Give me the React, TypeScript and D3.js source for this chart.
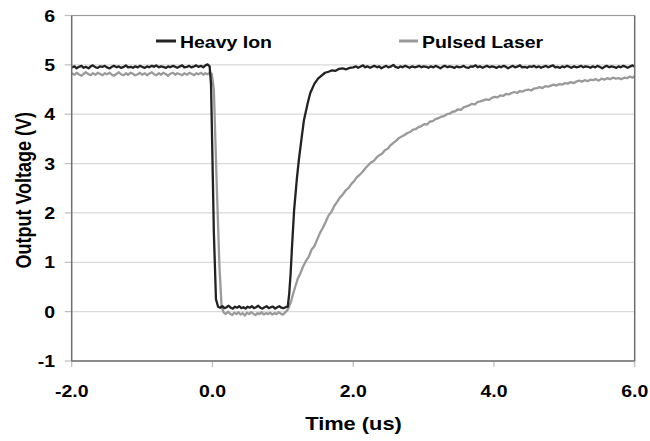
import React from "react";
import * as d3 from "d3";

const W = 650;
const H = 441;

const xTicks = [-2, 0, 2, 4, 6];
const yTicks = [-1, 0, 1, 2, 3, 4, 5, 6];
const seriesNames = ["Heavy Ion", "Pulsed Laser"];
const seriesColors = ["#222222", "#9a9a9a"];

// Heavy Ion trace: [time (us), voltage (V)]
const heavyIon: [number, number][] = [
  [-2.0, 4.95], [-1.96, 4.97], [-1.93, 4.93], [-1.9, 4.96], [-1.86, 4.98], [-1.83, 4.94], [-1.8, 4.96],
  [-1.76, 4.93], [-1.73, 4.97], [-1.7, 4.99], [-1.66, 4.95], [-1.63, 4.94], [-1.6, 4.97], [-1.56, 4.96],
  [-1.53, 4.98], [-1.5, 4.95], [-1.46, 4.93], [-1.43, 4.96], [-1.4, 4.98], [-1.36, 4.95], [-1.33, 4.97],
  [-1.3, 4.94], [-1.26, 4.96], [-1.23, 4.99], [-1.2, 4.95], [-1.16, 4.96], [-1.13, 4.94], [-1.1, 4.97],
  [-1.06, 4.95], [-1.03, 4.98], [-1.0, 4.96], [-0.96, 4.94], [-0.93, 4.97], [-0.9, 4.95], [-0.86, 4.98],
  [-0.83, 4.96], [-0.8, 4.99], [-0.76, 4.95], [-0.73, 4.97], [-0.7, 4.96], [-0.66, 4.94], [-0.63, 4.97],
  [-0.6, 4.95], [-0.56, 4.98], [-0.53, 4.96], [-0.5, 4.94], [-0.46, 4.97], [-0.43, 4.99], [-0.4, 4.95],
  [-0.36, 4.96], [-0.33, 4.98], [-0.3, 4.95], [-0.26, 4.97], [-0.23, 4.99], [-0.2, 4.96], [-0.16, 4.98],
  [-0.13, 4.95], [-0.1, 4.99], [-0.07, 5.01], [-0.04, 4.97], [-0.02, 4.6], [0.02, 1.6], [0.05, 0.25],
  [0.08, 0.1], [0.11, 0.08], [0.14, 0.11], [0.17, 0.07], [0.2, 0.09], [0.23, 0.12], [0.26, 0.08],
  [0.29, 0.06], [0.32, 0.1], [0.35, 0.08], [0.38, 0.11], [0.41, 0.07], [0.44, 0.09], [0.47, 0.06],
  [0.5, 0.1], [0.53, 0.08], [0.56, 0.11], [0.59, 0.07], [0.62, 0.09], [0.65, 0.12], [0.68, 0.08],
  [0.71, 0.06], [0.74, 0.09], [0.77, 0.11], [0.8, 0.07], [0.83, 0.09], [0.86, 0.1], [0.89, 0.06],
  [0.92, 0.09], [0.95, 0.11], [0.98, 0.08], [1.01, 0.07], [1.04, 0.09], [1.07, 0.1], [1.09, 0.35],
  [1.11, 0.75], [1.13, 1.3], [1.16, 2.05], [1.2, 2.7], [1.23, 3.1], [1.27, 3.55], [1.3, 3.88],
  [1.35, 4.2], [1.39, 4.43], [1.45, 4.62], [1.5, 4.72], [1.55, 4.78], [1.6, 4.84], [1.65, 4.86],
  [1.7, 4.89], [1.75, 4.88], [1.8, 4.92], [1.85, 4.93], [1.9, 4.91], [1.95, 4.94], [2.0, 4.95],
  [2.04, 4.97], [2.07, 4.94], [2.1, 4.96], [2.14, 4.99], [2.17, 4.95], [2.2, 4.97], [2.24, 4.94],
  [2.27, 4.96], [2.3, 4.98], [2.34, 4.95], [2.37, 4.97], [2.4, 4.93], [2.44, 4.96], [2.47, 4.98],
  [2.5, 4.95], [2.54, 4.97], [2.57, 5.0], [2.6, 4.96], [2.64, 4.94], [2.67, 4.97], [2.7, 4.95],
  [2.74, 4.98], [2.77, 4.96], [2.8, 4.94], [2.84, 4.97], [2.87, 4.95], [2.9, 4.96], [2.94, 4.98],
  [2.97, 4.95], [3.0, 4.97], [3.04, 4.96], [3.07, 4.94], [3.1, 4.97], [3.14, 4.95], [3.17, 4.98],
  [3.2, 4.96], [3.24, 4.93], [3.27, 4.96], [3.3, 4.98], [3.34, 4.95], [3.37, 4.97], [3.4, 4.96],
  [3.44, 4.94], [3.47, 4.97], [3.5, 4.95], [3.54, 4.96], [3.57, 4.98], [3.6, 4.95], [3.64, 4.94],
  [3.67, 4.97], [3.7, 4.96], [3.74, 4.99], [3.77, 4.95], [3.8, 4.97], [3.84, 4.94], [3.87, 4.96],
  [3.9, 4.98], [3.94, 4.95], [3.97, 4.97], [4.0, 4.96], [4.04, 4.94], [4.07, 4.97], [4.1, 4.95],
  [4.14, 4.98], [4.17, 4.96], [4.2, 4.93], [4.24, 4.96], [4.27, 4.98], [4.3, 4.95], [4.34, 4.97],
  [4.37, 4.99], [4.4, 4.95], [4.44, 4.96], [4.47, 4.94], [4.5, 4.97], [4.54, 4.96], [4.57, 4.98],
  [4.6, 4.95], [4.64, 4.97], [4.67, 4.94], [4.7, 4.96], [4.74, 4.98], [4.77, 4.95], [4.8, 4.97],
  [4.84, 4.99], [4.87, 4.95], [4.9, 4.96], [4.94, 4.94], [4.97, 4.97], [5.0, 4.95], [5.04, 4.98],
  [5.07, 4.96], [5.1, 4.94], [5.14, 4.97], [5.17, 4.95], [5.2, 4.96], [5.24, 4.98], [5.27, 4.95],
  [5.3, 4.97], [5.34, 4.96], [5.37, 4.94], [5.4, 4.97], [5.44, 4.95], [5.47, 4.98], [5.5, 4.96],
  [5.54, 4.93], [5.57, 4.96], [5.6, 4.98], [5.64, 4.95], [5.67, 4.97], [5.7, 4.96], [5.74, 4.94],
  [5.77, 4.97], [5.8, 4.95], [5.84, 4.98], [5.87, 4.96], [5.9, 4.94], [5.94, 4.97], [5.97, 4.99],
  [6.0, 4.96],
];

// Pulsed Laser trace: [time (us), voltage (V)]
const pulsedLaser: [number, number][] = [
  [-2.0, 4.83], [-1.96, 4.8], [-1.93, 4.84], [-1.9, 4.81], [-1.86, 4.78], [-1.83, 4.82], [-1.8, 4.85],
  [-1.76, 4.81], [-1.73, 4.79], [-1.7, 4.83], [-1.66, 4.8], [-1.63, 4.84], [-1.6, 4.82], [-1.56, 4.79],
  [-1.53, 4.83], [-1.5, 4.81], [-1.46, 4.84], [-1.43, 4.8], [-1.4, 4.78], [-1.36, 4.82], [-1.33, 4.85],
  [-1.3, 4.81], [-1.26, 4.79], [-1.23, 4.83], [-1.2, 4.8], [-1.16, 4.84], [-1.13, 4.82], [-1.1, 4.79],
  [-1.06, 4.81], [-1.03, 4.84], [-1.0, 4.8], [-0.96, 4.83], [-0.93, 4.79], [-0.9, 4.82], [-0.86, 4.85],
  [-0.83, 4.81], [-0.8, 4.79], [-0.76, 4.83], [-0.73, 4.8], [-0.7, 4.84], [-0.66, 4.81], [-0.63, 4.78],
  [-0.6, 4.82], [-0.56, 4.84], [-0.53, 4.8], [-0.5, 4.83], [-0.46, 4.81], [-0.43, 4.79], [-0.4, 4.83],
  [-0.36, 4.8], [-0.33, 4.84], [-0.3, 4.82], [-0.26, 4.79], [-0.23, 4.83], [-0.2, 4.81], [-0.16, 4.84],
  [-0.13, 4.8], [-0.1, 4.83], [-0.07, 4.81], [-0.04, 4.84], [-0.01, 4.82], [0.02, 4.5], [0.06, 2.6],
  [0.1, 0.9], [0.13, 0.1], [0.16, -0.02], [0.19, -0.05], [0.22, 0.0], [0.25, -0.04], [0.28, -0.07],
  [0.31, -0.02], [0.34, -0.05], [0.37, -0.01], [0.4, -0.06], [0.43, -0.03], [0.46, -0.08], [0.49, -0.02],
  [0.52, -0.05], [0.55, -0.01], [0.58, -0.04], [0.61, -0.07], [0.64, -0.03], [0.67, -0.05], [0.7, -0.01],
  [0.73, -0.06], [0.76, -0.03], [0.79, -0.05], [0.82, -0.02], [0.85, -0.06], [0.88, -0.03], [0.91, -0.05],
  [0.94, -0.01], [0.97, -0.04], [1.0, -0.06], [1.03, -0.02], [1.06, 0.02], [1.09, 0.1], [1.12, 0.22],
  [1.15, 0.38], [1.18, 0.52], [1.21, 0.66], [1.25, 0.78], [1.29, 0.92], [1.33, 1.03], [1.37, 1.12],
  [1.41, 1.26], [1.45, 1.33], [1.49, 1.47], [1.53, 1.6], [1.57, 1.7], [1.61, 1.82], [1.65, 1.95],
  [1.69, 2.02], [1.73, 2.14], [1.77, 2.22], [1.81, 2.31], [1.85, 2.37], [1.89, 2.45], [1.93, 2.5],
  [1.97, 2.58], [2.01, 2.64], [2.05, 2.72], [2.09, 2.77], [2.13, 2.83], [2.17, 2.9], [2.21, 2.96],
  [2.25, 3.02], [2.29, 3.05], [2.33, 3.12], [2.37, 3.17], [2.41, 3.2], [2.45, 3.27], [2.49, 3.3],
  [2.53, 3.37], [2.57, 3.42], [2.61, 3.46], [2.65, 3.52], [2.69, 3.55], [2.73, 3.58], [2.77, 3.62],
  [2.81, 3.64], [2.85, 3.69], [2.89, 3.7], [2.93, 3.74], [2.97, 3.76], [3.01, 3.8], [3.05, 3.79],
  [3.09, 3.85], [3.13, 3.86], [3.17, 3.9], [3.21, 3.92], [3.25, 3.95], [3.29, 3.96], [3.33, 4.0],
  [3.37, 4.01], [3.41, 4.05], [3.45, 4.06], [3.49, 4.1], [3.53, 4.09], [3.57, 4.14], [3.61, 4.16],
  [3.65, 4.18], [3.69, 4.21], [3.73, 4.2], [3.77, 4.25], [3.81, 4.26], [3.85, 4.28], [3.89, 4.3],
  [3.93, 4.29], [3.97, 4.33], [4.01, 4.35], [4.05, 4.34], [4.09, 4.38], [4.13, 4.37], [4.17, 4.41],
  [4.21, 4.4], [4.25, 4.43], [4.29, 4.45], [4.33, 4.43], [4.37, 4.47], [4.41, 4.46], [4.45, 4.49],
  [4.49, 4.5], [4.53, 4.48], [4.57, 4.52], [4.61, 4.53], [4.65, 4.55], [4.69, 4.53], [4.73, 4.57],
  [4.77, 4.56], [4.81, 4.58], [4.85, 4.6], [4.89, 4.58], [4.93, 4.61], [4.97, 4.6], [5.01, 4.63],
  [5.05, 4.62], [5.09, 4.65], [5.13, 4.63], [5.17, 4.66], [5.21, 4.68], [5.25, 4.66], [5.29, 4.69],
  [5.33, 4.67], [5.37, 4.7], [5.41, 4.69], [5.45, 4.71], [5.49, 4.68], [5.53, 4.72], [5.57, 4.7],
  [5.61, 4.73], [5.65, 4.71], [5.69, 4.74], [5.73, 4.72], [5.77, 4.73], [5.81, 4.71], [5.85, 4.74],
  [5.89, 4.73], [5.93, 4.76], [5.97, 4.74], [6.0, 4.77],
];

const seriesData = [heavyIon, pulsedLaser];

const FONT = "Arial, 'Liberation Sans', Helvetica, sans-serif";
const SX = 1.18; // horizontal stretch of the source image

const hyphen = (s: string) => s.replace("\u2212", "-");
const fmtY = (t: number) => hyphen(d3.format("d")(t));
const fmtX = (t: number) => hyphen(d3.format(".1f")(t));

function SText({ x, y, size, anchor = "start", rotate = 0, children }: any) {
  return (
    <text
      transform={`translate(${x},${y}) scale(${SX},1) rotate(${rotate})`}
      textAnchor={anchor}
      fontFamily={FONT}
      fontWeight="bold"
      fontSize={size}
      fill="#000"
    >
      {children}
    </text>
  );
}

export default function App() {
  const left = 71.7;
  const right = 634.7;
  const top = 15.5;
  const bottom = 361;

  const x = d3.scaleLinear().domain([-2, 6]).range([left, right]);
  const y = d3.scaleLinear().domain([-1, 6]).range([bottom, top]);

  const line = d3
    .line<[number, number]>()
    .x((d) => x(d[0]))
    .y((d) => y(d[1]))
    .curve(d3.curveLinear);

  return (
    <svg
      width={W}
      height={H}
      viewBox={`0 0 ${W} ${H}`}
      style={{ position: "absolute", left: 0, top: 0, background: "#fff" }}
    >
      <rect x={0} y={0} width={W} height={H} fill="#fff" />
      {/* gridlines */}
      {yTicks.map((t) => (
        <line key={"g" + t} x1={left} x2={right} y1={y(t)} y2={y(t)} stroke="#d9d9d9" strokeWidth={1.3} />
      ))}
      {/* y tick marks */}
      {yTicks.map((t) => (
        <line key={"yt" + t} x1={left - 7} x2={left} y1={y(t)} y2={y(t)} stroke="#bdbdbd" strokeWidth={1.2} />
      ))}
      {/* x tick marks */}
      {xTicks.map((t) => (
        <line key={"xt" + t} x1={x(t)} x2={x(t)} y1={bottom} y2={bottom + 6} stroke="#bdbdbd" strokeWidth={1.2} />
      ))}
      {/* series */}
      {seriesData
        .slice()
        .reverse()
        .map((d, i) => {
          const idx = seriesData.length - 1 - i;
          return (
            <path
              key={seriesNames[idx]}
              d={line(d) || ""}
              fill="none"
              stroke={seriesColors[idx]}
              strokeWidth={2.3}
              strokeLinejoin="round"
            />
          );
        })}
      {/* plot border */}
      <line x1={left} x2={right} y1={top} y2={top} stroke="#9a9a9a" strokeWidth={1.2} />
      <line x1={left} x2={left} y1={top} y2={bottom} stroke="#6f6f6f" strokeWidth={1.5} />
      <line x1={left} x2={right} y1={bottom} y2={bottom} stroke="#6f6f6f" strokeWidth={1.5} />
      <line x1={right} x2={right} y1={top} y2={bottom} stroke="#6f6f6f" strokeWidth={1.5} />

      {/* y tick labels */}
      {yTicks.map((t) => (
        <SText key={"yl" + t} x={55} y={y(t) + 6} size={16.5} anchor="end">
          {fmtY(t)}
        </SText>
      ))}
      {/* x tick labels */}
      {xTicks.map((t) => (
        <SText key={"xl" + t} x={x(t)} y={397} size={16.5} anchor="middle">
          {fmtX(t)}
        </SText>
      ))}

      {/* axis titles */}
      <SText x={353.5} y={430} size={18.5} anchor="middle">
        Time (us)
      </SText>
      <SText x={31} y={(top + bottom) / 2 + 2} size={18} anchor="middle" rotate={-90}>
        Output Voltage (V)
      </SText>

      {/* legend */}
      <line x1={156} x2={176} y1={41} y2={41} stroke={seriesColors[0]} strokeWidth={3} />
      <SText x={180} y={48} size={16.5}>
        {seriesNames[0]}
      </SText>
      <line x1={399} x2={418} y1={41} y2={41} stroke={seriesColors[1]} strokeWidth={3} />
      <SText x={422} y={48} size={16.5}>
        {seriesNames[1]}
      </SText>
    </svg>
  );
}
